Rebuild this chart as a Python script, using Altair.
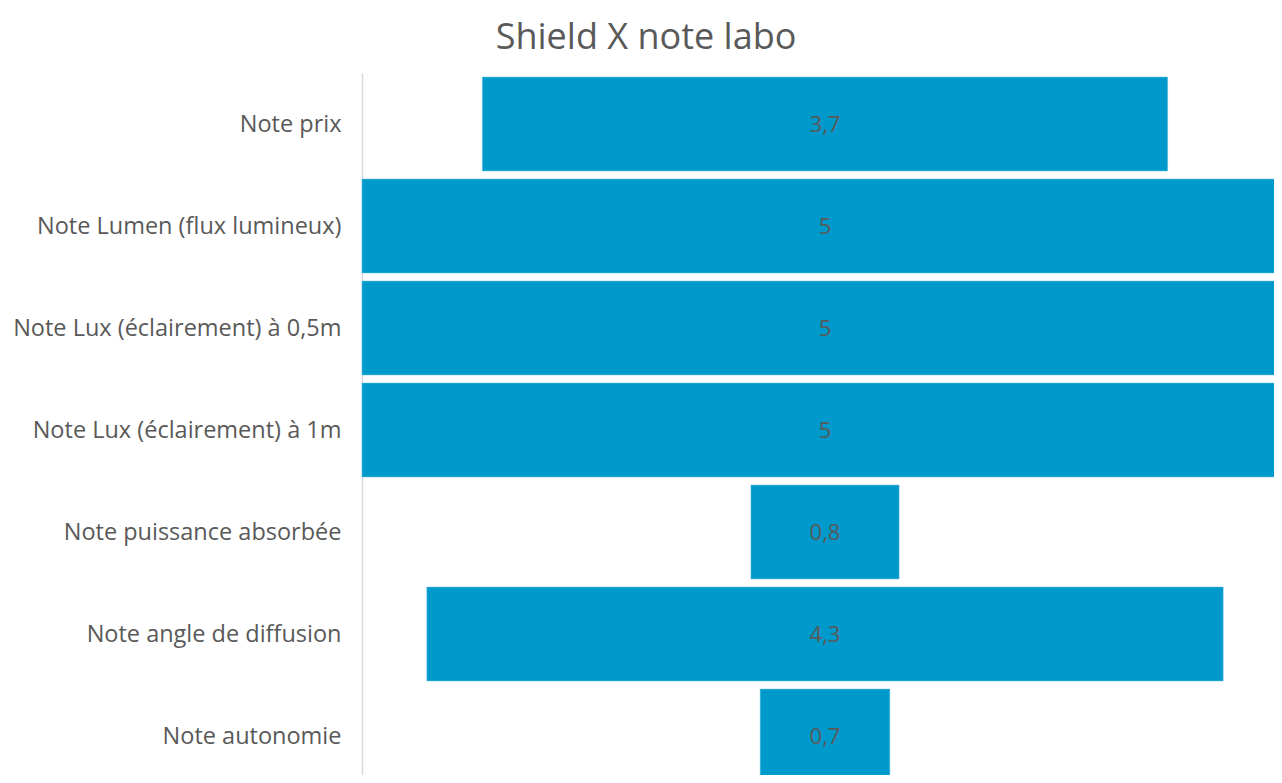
import altair as alt
import pandas as pd

categories = [
    "Note prix",
    "Note Lumen (flux lumineux)",
    "Note Lux (éclairement) à 0,5m",
    "Note Lux (éclairement) à 1m",
    "Note puissance absorbée",
    "Note angle de diffusion",
    "Note autonomie",
]
values = [3.7, 5, 5, 5, 0.8, 4.3, 0.7]
labels = ["3,7", "5", "5", "5", "0,8", "4,3", "0,7"]

df = pd.DataFrame({"cat": categories, "v": values, "lbl": labels})

FONT = "Open Sans"

y = alt.Y(
    "cat:N",
    sort=categories,
    title=None,
    scale=alt.Scale(range=[0, 714], paddingInner=0.08, paddingOuter=0.04),
    axis=alt.Axis(
        ticks=False,
        labelFont=FONT,
        labelFontSize=23.5,
        labelColor="#595959",
        labelPadding=21,
        labelLimit=400,
        labelOffset=1,
        domainColor="#d9d9d9",
        domainWidth=1.5,
        grid=False,
    ),
)
xs = alt.Scale(domain=[-2.5, 2.5], range=[0, 926])

base = alt.Chart(df).transform_calculate(lo="-datum.v/2", hi="datum.v/2", z="0")

bars = base.mark_bar(color="#0099CC", stroke="#5bbde0", strokeWidth=0.5).encode(
    y=y,
    x=alt.X("lo:Q", scale=xs, axis=None),
    x2="hi:Q",
)

text = base.mark_text(font=FONT, fontSize=22, color="#595959", dy=1).encode(
    y=alt.Y("cat:N", sort=categories),
    x=alt.X("z:Q", scale=xs),
    text="lbl:N",
)

chart = (
    alt.layer(bars, text)
    .properties(
        width=912,
        height=702,
        autosize=alt.AutoSizeParams(type="none"),
        padding={"left": 354, "top": 65, "right": 0, "bottom": 0},
        title=alt.TitleParams(
            "Shield X note labo",
            font=FONT,
            fontSize=36,
            fontWeight="normal",
            color="#595959",
            dx=-172,
            offset=16,
        ),
    )
    .configure_view(stroke=None)
)

chart.save("out.html", embed_options={"renderer": "svg", "actions": False})
